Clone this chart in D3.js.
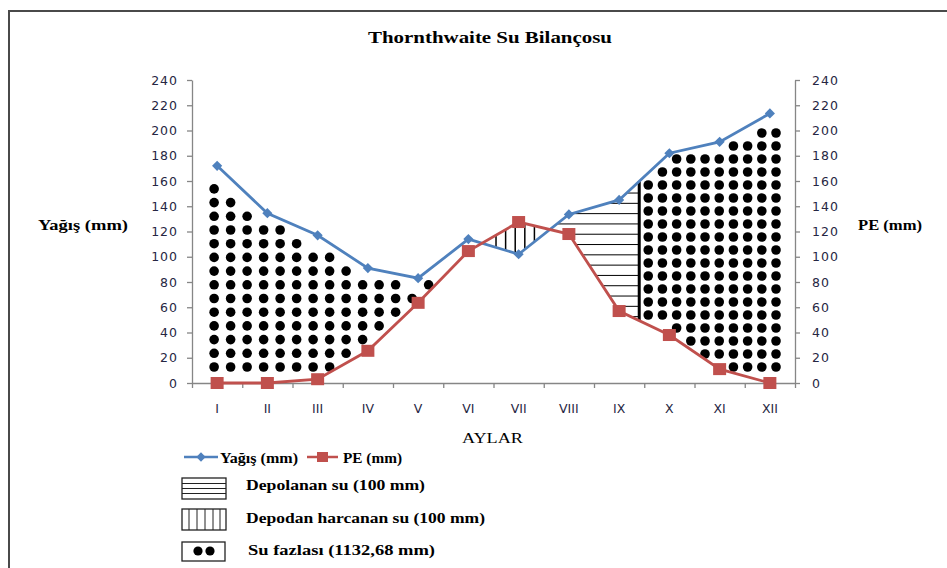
<!DOCTYPE html>
<html>
<head>
<meta charset="utf-8">
<script src="https://cdn.jsdelivr.net/npm/d3@7/dist/d3.min.js"></script>
<style>
  body { margin: 0; background: #fff; }
  svg { display: block; }
</style>
</head>
<body>
<svg id="chart"></svg>
<script>
// months and series
var months = ["I", "II", "III", "IV", "V", "VI", "VII", "VIII", "IX", "X", "XI", "XII"];
var yagis = [172, 134.5, 117, 91, 83, 114, 102, 133.5, 145, 182, 191, 213.5];
var pe = [0, 0, 3, 25.5, 63.5, 104.5, 127.5, 118, 57, 38, 11, 0];
var yTicks = [0, 20, 40, 60, 80, 100, 120, 140, 160, 180, 200, 220, 240];
// month index (IX + 0.4) where the store is full (bold vertical line)
var storageFull = 8.4;

var W = 947, H = 568;
var svg = d3.select("#chart").attr("width", W).attr("height", H);

var x = d3.scaleLinear().domain([-0.5, 11.5]).range([192, 795]);
var y = d3.scaleLinear().domain([0, 240]).range([383, 80]);

var txtCol = "#262643", axisCol = "#868686";
var blue = "#4F81BD", red = "#C0504D";

// frame
svg.append("rect")
  .attr("x", 9).attr("y", 11).attr("width", 1000).attr("height", 700)
  .attr("fill", "none").attr("stroke", "#4a4a4a").attr("stroke-width", 2);

function valueAt(arr, t) {
  t = Math.max(0, Math.min(arr.length - 1, t));
  var i = Math.min(Math.floor(t), arr.length - 2), f = t - i;
  return arr[i] + (arr[i + 1] - arr[i]) * f;
}
function crossAt(i) {
  var d0 = yagis[i] - pe[i], d1 = yagis[i + 1] - pe[i + 1];
  return i + d0 / (d0 - d1);
}
function samples(a, b) {
  var s = [a];
  for (var k = Math.floor(a) + 1; k < b; k++) s.push(k);
  s.push(b);
  return s;
}

var c1 = crossAt(5), c2 = crossAt(6);

var area = d3.area()
  .x(function(t) { return x(t) })
  .y0(function(t) { return y(valueAt(pe, t)) })
  .y1(function(t) { return y(valueAt(yagis, t)) });

// polygon of a region, widened a little left/right so edge columns fit
function polygon(a, b, padL, padR) {
  var s = samples(a, b);
  var top = s.map(function(t) { return [x(t), y(valueAt(yagis, t))] });
  var bot = s.slice().reverse().map(function(t) { return [x(t), y(valueAt(pe, t))] });
  top[0][0] -= padL; bot[bot.length - 1][0] -= padL;
  top[top.length - 1][0] += padR; bot[0][0] += padR;
  return top.concat(bot);
}

// surplus dots
var dotsG = svg.append("g");
[
  {a: 0, b: c1, padL: 6, padR: 0, dx: 16.5, dy: 13.7, off: -3, top: 11},
  {a: storageFull, b: 11, padL: 0, padR: 10, dx: 14.2, dy: 13, off: 9, top: 6}
].forEach(function(r) {
  var poly = polygon(r.a, r.b, r.padL, r.padR);
  var x0 = x(r.a) + r.off, x1 = x(r.b) + 10;
  for (var gx = x0; gx <= x1; gx += r.dx) {
    for (var gy = y(0) - 16; gy > 80; gy -= r.dy) {
      var ok = [[0, 0], [0, -r.top], [0, 5], [-2, 0], [2, 0]].every(function(o) {
        return d3.polygonContains(poly, [gx + o[0], gy + o[1]]);
      });
      if (ok)
        dotsG.append("circle").attr("cx", gx).attr("cy", gy).attr("r", 4.8).attr("fill", "#000");
    }
  }
});

// depodan harcanan su : vertical hatching
var vg = svg.append("g");
for (var px = x(c1) + 14; px < x(c2) - 10; px += 9.6) {
  var t = x.invert(px);
  vg.append("line")
    .attr("x1", px).attr("x2", px)
    .attr("y1", y(valueAt(yagis, t))).attr("y2", y(valueAt(pe, t)))
    .attr("stroke", "#000").attr("stroke-width", 1.5);
}

// depolanan su : horizontal hatching
svg.append("clipPath").attr("id", "rechargeClip")
  .append("path").attr("d", area(samples(c2, storageFull)));
var hg = svg.append("g").attr("clip-path", "url(#rechargeClip)");
for (var py = y(valueAt(pe, storageFull)) - 4; py > 150; py -= 10.3) {
  hg.append("line")
    .attr("x1", x(c2)).attr("x2", x(storageFull))
    .attr("y1", py).attr("y2", py)
    .attr("stroke", "#000").attr("stroke-width", 1);
}
svg.append("line")
  .attr("x1", x(storageFull)).attr("x2", x(storageFull))
  .attr("y1", y(valueAt(yagis, storageFull))).attr("y2", y(valueAt(pe, storageFull)))
  .attr("stroke", "#000").attr("stroke-width", 3);

// axes
var boundaries = d3.range(-0.5, 12, 1);
var gx = svg.append("g").attr("transform", "translate(0," + y(0) + ")")
  .call(d3.axisBottom(x).tickValues(boundaries).tickSize(5).tickSizeOuter(0).tickFormat(""));
var gl = svg.append("g").attr("transform", "translate(" + x(-0.5) + ",0)")
  .call(d3.axisLeft(y).tickValues(yTicks).tickSize(5).tickSizeOuter(0).tickPadding(9));
var gr = svg.append("g").attr("transform", "translate(" + x(11.5) + ",0)")
  .call(d3.axisRight(y).tickValues(yTicks).tickSize(5).tickSizeOuter(0).tickPadding(12));
[gx, gl, gr].forEach(function(g) {
  g.selectAll("path, line").attr("stroke", axisCol).attr("stroke-width", 1.3);
  g.selectAll("text")
    .attr("fill", txtCol)
    .style("font-family", "'DejaVu Sans', sans-serif")
    .style("font-size", "12.5px")
    .style("letter-spacing", "1px");
});

svg.append("g").selectAll("text").data(months).enter().append("text")
  .attr("x", function(d, i) { return x(i) })
  .attr("y", 413)
  .attr("text-anchor", "middle")
  .attr("fill", txtCol)
  .style("font-family", "'DejaVu Sans', sans-serif")
  .style("font-size", "12.5px")
  .text(function(d) { return d });

// lines
var line = d3.line()
  .x(function(d, i) { return x(i) })
  .y(function(d) { return y(d) });

svg.append("path").datum(yagis).attr("d", line)
  .attr("fill", "none").attr("stroke", blue).attr("stroke-width", 2.8);
svg.append("path").datum(pe).attr("d", line)
  .attr("fill", "none").attr("stroke", red).attr("stroke-width", 2.8);

svg.append("g").selectAll("rect").data(yagis).enter().append("rect")
  .attr("x", -3.6).attr("y", -3.6).attr("width", 7.2).attr("height", 7.2)
  .attr("transform", function(d, i) { return "translate(" + x(i) + "," + y(d) + ") rotate(45)" })
  .attr("fill", blue);
svg.append("g").selectAll("rect").data(pe).enter().append("rect")
  .attr("x", function(d, i) { return x(i) - 6.5 })
  .attr("y", function(d) { return y(d) - 6 })
  .attr("width", 13).attr("height", 12)
  .attr("fill", red);

// titles
function serif(t, xx, yy, len, size, bold, anchor) {
  return svg.append("text")
    .attr("x", xx).attr("y", yy)
    .attr("text-anchor", anchor || "start")
    .attr("textLength", len).attr("lengthAdjust", "spacingAndGlyphs")
    .attr("fill", "#000")
    .style("font-family", "'Liberation Serif', 'Times New Roman', serif")
    .style("font-size", size + "px")
    .style("font-weight", bold ? "bold" : "normal")
    .text(t);
}
serif("Thornthwaite Su Bilançosu", 368, 43, 244, 17, true);
serif("Yağış (mm)", 38, 230, 90, 15, true);
serif("PE (mm)", 858, 230, 64, 15, true);
serif("AYLAR", 462, 443, 61, 15, false);

// legend
var lg = svg.append("g");
lg.append("line").attr("x1", 184).attr("x2", 218).attr("y1", 457).attr("y2", 457)
  .attr("stroke", blue).attr("stroke-width", 2.5);
lg.append("rect").attr("x", -3.3).attr("y", -3.3).attr("width", 6.6).attr("height", 6.6)
  .attr("transform", "translate(201,457) rotate(45)").attr("fill", blue);
serif("Yağış (mm)", 220, 463, 78, 14, true);
lg.append("line").attr("x1", 307).attr("x2", 338).attr("y1", 457).attr("y2", 457)
  .attr("stroke", red).attr("stroke-width", 2.5);
lg.append("rect").attr("x", 317).attr("y", 452).attr("width", 11).attr("height", 10).attr("fill", red);
serif("PE (mm)", 343, 463, 59, 14, true);

// pattern swatches
var b1 = lg.append("g");
b1.append("rect").attr("x", 182).attr("y", 478).attr("width", 44).attr("height", 21)
  .attr("fill", "#fff").attr("stroke", "#222").attr("stroke-width", 1.3);
[483.5, 488.5, 493.5].forEach(function(yy) {
  b1.append("line").attr("x1", 182).attr("x2", 226).attr("y1", yy).attr("y2", yy)
    .attr("stroke", "#222").attr("stroke-width", 1);
});
serif("Depolanan su (100 mm)", 246, 490, 179, 14, true);

var b2 = lg.append("g");
b2.append("rect").attr("x", 182).attr("y", 509).attr("width", 44).attr("height", 21)
  .attr("fill", "#fff").attr("stroke", "#222").attr("stroke-width", 1.3);
[189, 197, 205, 213, 220].forEach(function(xx) {
  b2.append("line").attr("x1", xx).attr("x2", xx).attr("y1", 509).attr("y2", 530)
    .attr("stroke", "#222").attr("stroke-width", 1);
});
serif("Depodan harcanan su (100 mm)", 246, 523, 239, 14, true);

var b3 = lg.append("g");
b3.append("rect").attr("x", 182).attr("y", 542).attr("width", 43).attr("height", 19)
  .attr("fill", "#fff").attr("stroke", "#222").attr("stroke-width", 1.3);
[198, 210].forEach(function(xx) {
  b3.append("circle").attr("cx", xx).attr("cy", 551).attr("r", 4.6).attr("fill", "#000");
});
serif("Su fazlası (1132,68 mm)", 248, 555, 187, 14, true);
</script>
</body>
</html>
